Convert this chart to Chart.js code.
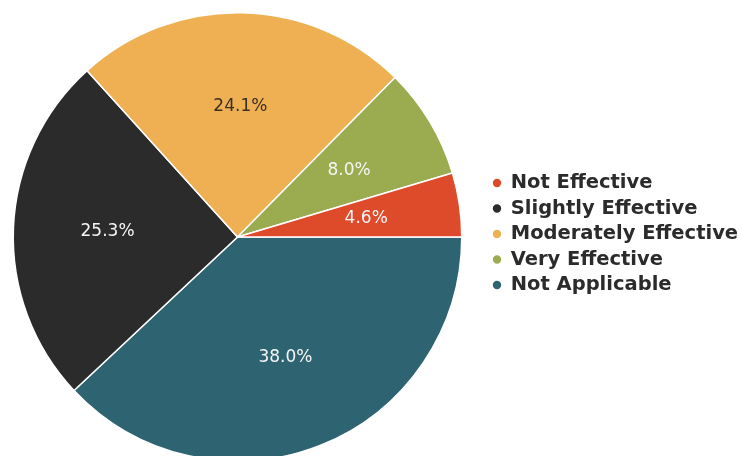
<!DOCTYPE html>
<html>
<head>
<meta charset="utf-8">
<script src="https://cdn.jsdelivr.net/npm/chart.js@4.4.1/dist/chart.umd.min.js"></script>
<style>
  html, body { margin: 0; padding: 0; background: #fff; overflow: hidden; }
  #wrap { position: relative; width: 742px; height: 462px; }
</style>
</head>
<body>
<div id="wrap"><canvas id="pieEfectividad"></canvas></div>
<script>
// legend order
var categorias = ['Not Effective', 'Slightly Effective', 'Moderately Effective', 'Very Effective', 'Not Applicable'];
var porcentajes = [4.6, 25.3, 24.1, 8.0, 38.0];
var colores = ['#de4b2b', '#2b2b2b', '#eeb052', '#9bab4f', '#2e6471'];
var colorTexto = ['#f5f5f5', '#f5f5f5', '#3a3022', '#f5f5f5', '#f5f5f5'];
// slices run clockwise from 3 o'clock in this order
var ordenPorciones = [4, 1, 2, 3, 0];

var etiquetas = ordenPorciones.map(function(i){ return categorias[i]; });
var valores = ordenPorciones.map(function(i){ return porcentajes[i]; });
var fondos = ordenPorciones.map(function(i){ return colores[i]; });
var textos = ordenPorciones.map(function(i){ return colorTexto[i]; });

// fixed legend column on the right
var legendaFija = {
  id: 'legendaFija',
  beforeInit: function(chart) {
    var fit = chart.legend.fit;
    chart.legend.fit = function() {
      fit.call(this);
      this.width = 279;
    };
  },
  afterLayout: function(chart) {
    chart.legend.left += 24;
    chart.legend.top -= 3;
    chart.legend.bottom -= 3;
  }
};

// percentage text inside each slice
var textoPorciones = {
  id: 'textoPorciones',
  afterDatasetsDraw: function(chart) {
    var ctx = chart.ctx;
    var meta = chart.getDatasetMeta(0);
    ctx.save();
    ctx.font = '17px "DejaVu Sans"';
    ctx.textAlign = 'center';
    ctx.textBaseline = 'middle';
    meta.data.forEach(function(arc, i) {
      var p = arc.getProps(['x', 'y', 'startAngle', 'endAngle', 'outerRadius']);
      var medio = (p.startAngle + p.endAngle) / 2;
      var r = p.outerRadius * 0.58;
      ctx.fillStyle = textos[i];
      ctx.fillText(valores[i].toFixed(1) + '%', p.x + Math.cos(medio) * r, p.y + Math.sin(medio) * r);
    });
    ctx.restore();
  }
};

var pieData = {
  labels: etiquetas,
  datasets: [{
    label: 'Efectividad',
    data: valores,
    backgroundColor: fondos,
    borderColor: '#ffffff',
    borderWidth: 1.5
  }]
};

var pieOptions = {
  responsive: true,
  maintainAspectRatio: false,
  animation: false,
  rotation: 90,
  layout: { padding: { top: 12, left: 12, right: 0, bottom: 0 } },
  plugins: {
    tooltip: { enabled: false },
    legend: {
      position: 'right',
      align: 'center',
      labels: {
        usePointStyle: true,
        pointStyle: 'circle',
        boxWidth: 8,
        boxHeight: 7,
        padding: 6,
        color: '#2b2b2b',
        font: { family: '"DejaVu Sans"', size: 19.5, weight: 'bold' },
        sort: function(a, b) {
          return categorias.indexOf(a.text) - categorias.indexOf(b.text);
        }
      }
    }
  }
};

new Chart(document.getElementById('pieEfectividad').getContext('2d'), {
  type: 'pie',
  data: pieData,
  options: pieOptions,
  plugins: [legendaFija, textoPorciones]
});
</script>
</body>
</html>
